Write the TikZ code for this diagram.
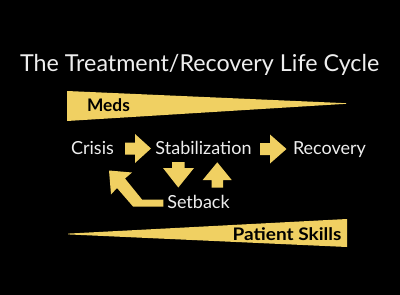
\documentclass[tikz,border=0pt]{standalone}
\usepackage{fontspec}
\setmainfont{Lato}
\definecolor{gold}{RGB}{240,208,98}
\definecolor{chalk}{RGB}{238,238,238}

\begin{document}
\begin{tikzpicture}[x=1pt,y=-1pt,
  label/.style={text=chalk,inner sep=0pt,anchor=base,font=\fontsize{18}{20}\selectfont},
  tag/.style={text=black,inner sep=0pt,anchor=base,font=\fontsize{17.3}{19}\selectfont\bfseries},
  blockarrow/.style={fill=gold}]
% background
\fill[black] (0,0) rectangle (400,295);
\useasboundingbox (0,0) rectangle (400,295);
% title
\node[label,font=\fontsize{23.3}{26}\selectfont] (title) at (199.7,71.7) {The Treatment/Recovery Life Cycle};
% wedge: meds (thick at left)
\fill[gold] (67,91) -- (346,103.2) -- (346,103.8) -- (67,121) -- cycle;
\node[tag] (meds) at (108.5,111.7) {Meds};
% wedge: patient skills (thick at right)
\fill[gold] (68,233.6) -- (347,219) -- (347,247) -- (68,234.4) -- cycle;
\node[tag,xscale=1.1] (skills) at (287,240) {Patient Skills};
% stages
\node[label] (crisis) at (92.5,154.3) {Crisis};
\node[label] (stab) at (203.5,154.3) {Stabilization};
\node[label] (recov) at (329.5,154.3) {Recovery};
\node[label] (setback) at (198.5,208.3) {Setback};
% right arrows
\foreach \xa/\xb/\xc/\yc in {125/135/151/148.5, 260/270/286.5/149}{
  \fill[blockarrow] (\xa,\yc-6) -- (\xb,\yc-6) -- (\xb,\yc-14.5) -- (\xc,\yc)
    -- (\xb,\yc+14.5) -- (\xb,\yc+6) -- (\xa,\yc+6) -- cycle;
}
% down arrow (stabilization -> setback)
\fill[blockarrow] (172,162) -- (184.5,162) -- (184.5,168) -- (194,168) -- (178.3,187.5)
  -- (163,168) -- (172,168) -- cycle;
% up arrow (setback -> stabilization)
\fill[blockarrow] (211.5,187.5) -- (223,187.5) -- (223,180) -- (231.7,180) -- (217.3,162.3)
  -- (202.7,180) -- (211.5,180) -- cycle;
% bent arrow (setback -> crisis)
\fill[blockarrow] (109,170.5) -- (132,172.5) -- (125,178.5) -- (142,199.5) -- (163.3,199.5)
  -- (163.3,206.5) -- (133,206.5) -- (117,188) -- (111,194.5) -- cycle;
\end{tikzpicture}
\end{document}
